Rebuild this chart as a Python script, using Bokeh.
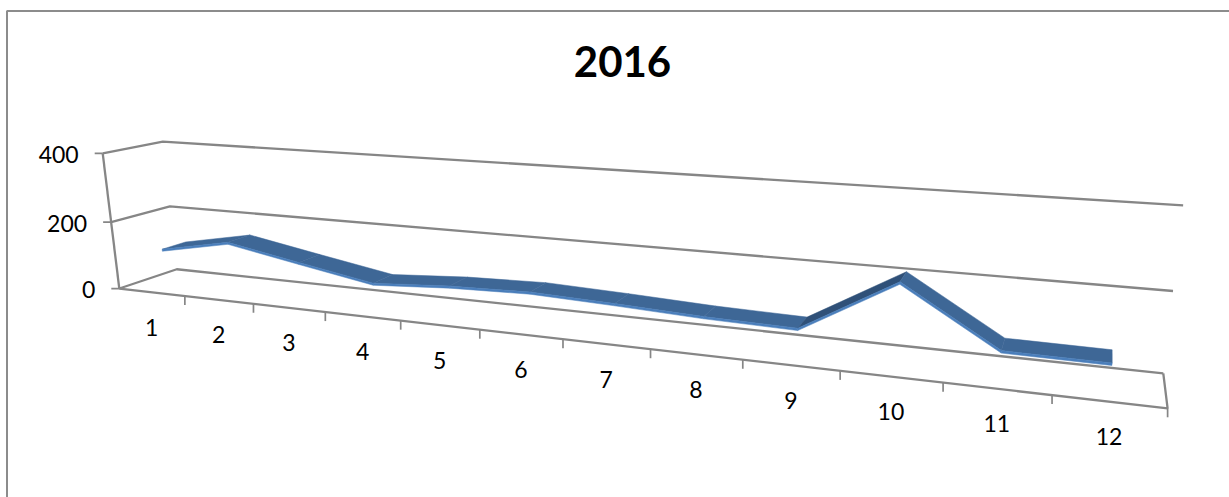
import numpy as np
from bokeh.plotting import figure
from bokeh.core.properties import value
from bokeh.embed import file_html
from bokeh.resources import INLINE

title_text = "2016"
months = ["1", "2", "3", "4", "5", "6", "7", "8", "9", "10", "11", "12"]
sales = [115, 155, 116, 78, 92, 98, 90, 80, 75, 213, 72, 70]
y_ticks = [0, 200, 400]
y_tick_labels = ["0", "200", "400"]

# Perspective camera of the 3-D chart, calibrated on the box corners and ticks.
# (category position, value, depth, screen x, screen y)
calib = [
    (0, 0, 0, 119, 288), (12, 0, 0, 1167, 408),
    (0, 200, 0, 109, 221), (0, 400, 0, 103, 153),
    (0, 0, 1, 176, 269), (12, 0, 1, 1163, 373),
    (0, 200, 1, 170, 205), (12, 200, 1, 1172, 290),
    (0, 400, 1, 162, 142), (12, 400, 1, 1183, 205),
    (1, 0, 0, 185, 296), (2, 0, 0, 253, 303), (3, 0, 0, 325, 312),
    (4, 0, 0, 400, 320), (5, 0, 0, 480, 329), (6, 0, 0, 562, 339),
    (7, 0, 0, 650, 349), (8, 0, 0, 742, 359), (9, 0, 0, 840, 370),
    (10, 0, 0, 942, 382), (11, 0, 0, 1052, 395),
]
A, b = [], []
for u, v, d, x, y in calib:
    A.append([u, v, d, 1, 0, 0, 0, 0, -x * u, -x * v, -x * d]); b.append(x)
    A.append([0, 0, 0, 0, u, v, d, 1, -y * u, -y * v, -y * d]); b.append(y)
cam = np.linalg.lstsq(np.array(A, float), np.array(b, float), rcond=None)[0]


def project(u, v, d):
    w = cam[8] * u + cam[9] * v + cam[10] * d + 1
    return ((cam[0] * u + cam[1] * v + cam[2] * d + cam[3]) / w,
            (cam[4] * u + cam[5] * v + cam[6] * d + cam[7]) / w)


W, H = 1229, 497
p = figure(width=W, height=H, x_range=(0, W), y_range=(H, 0),
           output_backend="svg", toolbar_location=None, min_border=0,
           background_fill_color="white", border_fill_color="white")
p.axis.visible = False
p.grid.visible = False
p.outline_line_color = None

GREY = "#868686"
LW = 2.3
# chart-area border (top and left sides only are inside the crop)
p.line([6.5, 6.5, W], [H, 10.5, 10.5], line_color="#8c8c8c", line_width=2)

# gridlines across side wall and back wall
n = len(months)
for t in y_ticks:
    pts = [project(0, t, 0), project(0, t, 1), project(n, t, 1)]
    p.line([q[0] for q in pts], [q[1] for q in pts], line_color=GREY, line_width=LW)
# value axis
pts = [project(0, y_ticks[-1], 0), project(0, 0, 0)]
p.line([q[0] for q in pts], [q[1] for q in pts], line_color=GREY, line_width=LW)
# category axis and floor right edge
pts = [project(0, 0, 0), project(n, 0, 0), project(n, 0, 1)]
p.line([q[0] for q in pts], [q[1] for q in pts], line_color=GREY, line_width=LW)
# ticks
for t in y_ticks:
    x, y = project(0, t, 0)
    p.line([x - 8, x], [y, y], line_color=GREY, line_width=1.7)
for i in range(1, n + 1):
    x, y = project(i, 0, 0)
    p.line([x, x], [y, y + 9], line_color=GREY, line_width=1.7)

# tick labels
font = value("Lato")
for t, lab in zip(y_ticks, y_tick_labels):
    x, y = project(0, t, 0)
    p.text([x - 24], [y + 1], text=[lab], text_font=font, text_font_size="23px",
           text_align="right", text_baseline="middle", text_color="black")
for i, lab in enumerate(months):
    x, y = project(i + 0.5, 0, 0)
    p.text([x], [y + 35], text=[lab], text_font=font, text_font_size="23px",
           text_align="center", text_baseline="middle", text_color="black")
p.text([622], [61], text=[title_text], text_font=font, text_font_size="42px",
       text_font_style="bold", text_align="center", text_baseline="middle",
       text_color="black")

# ribbon
D0, D1, EDGE = 0.25, 0.66, 6
for i in range(n - 1):
    u0, u1, a, c = i + 0.5, i + 1.5, sales[i], sales[i + 1]
    top = [project(u0, a, D0), project(u1, c, D0), project(u1, c, D1), project(u0, a, D1)]
    front = [project(u0, a, D0), project(u1, c, D0),
             project(u1, c - EDGE, D0), project(u0, a - EDGE, D0)]
    color = "#2f5078" if c > a + 50 else "#3e6796"
    p.patch([q[0] for q in top], [q[1] for q in top], fill_color=color, line_color=color,
            line_width=0.5)
    p.patch([q[0] for q in front], [q[1] for q in front], fill_color="#4a7ebb",
            line_color="#4a7ebb", line_width=0.5)

open("out.html", "w").write(file_html(p, INLINE))
